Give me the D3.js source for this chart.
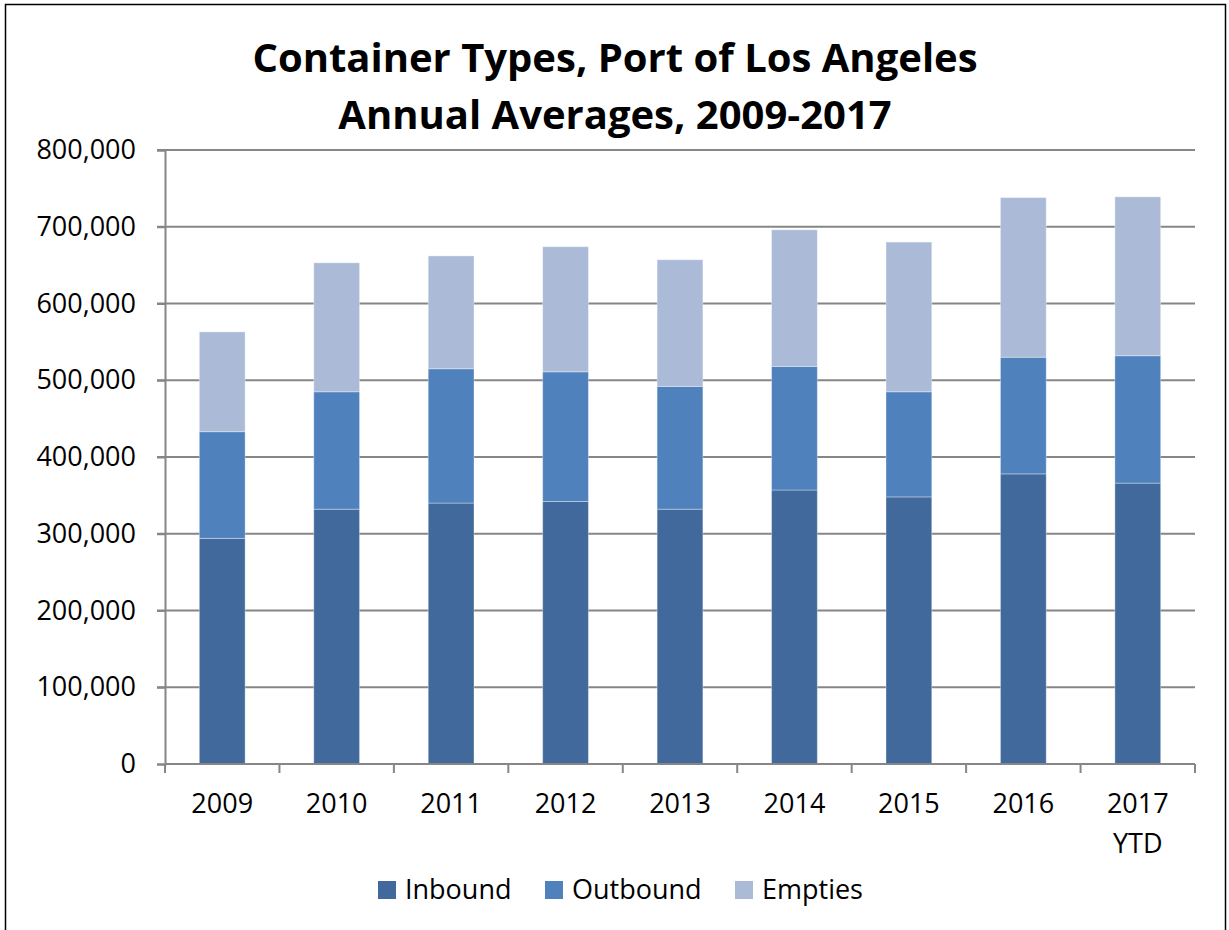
<!DOCTYPE html>
<html>
<head>
<meta charset="utf-8">
<script src="https://cdn.jsdelivr.net/npm/d3@7"></script>
<style>
  body { margin: 0; background: #fff; }
  svg { display: block; font-family: "Open Sans", "Noto Sans", sans-serif; }
</style>
</head>
<body>
<div id="chart"></div>
<script>
// values, stacked bottom to top
const years = ["2009", "2010", "2011", "2012", "2013", "2014", "2015", "2016", "2017\nYTD"]
const inbound = [294000, 332000, 340000, 342000, 332000, 357000, 348000, 378000, 366000]
const outbound = [139000, 153000, 175000, 169000, 160000, 161000, 137000, 152000, 166000]
const empties = [130000, 168000, 147000, 163000, 165000, 178000, 195000, 208000, 207000]
const seriesNames = ["Inbound", "Outbound", "Empties"]
const colors = ["#41699b", "#4f81bd", "#aabad7"]
const yTicks = [0, 100000, 200000, 300000, 400000, 500000, 600000, 700000, 800000]

const WIDTH = 1229
const HEIGHT = 930
const margin = { top: 150, right: 34, bottom: 166, left: 165 }

const rows = years.map((y, i) => ({
    year: y,
    Inbound: inbound[i],
    Outbound: outbound[i],
    Empties: empties[i]
}))

const stacked = d3.stack().keys(seriesNames)(rows)

const svg = d3.select("#chart").append("svg")
    .attr("width", WIDTH)
    .attr("height", HEIGHT)

svg.append("rect")
    .attr("x", 5.5).attr("y", 4.5)
    .attr("width", 1220).attr("height", 940)
    .attr("fill", "none").attr("stroke", "#000").attr("stroke-width", 1.5)

const x = d3.scaleBand()
    .domain(years)
    .range([margin.left, WIDTH - margin.right])
    .paddingInner(0.6)
    .paddingOuter(0.3)

const xEdges = d3.scaleLinear()
    .domain([0, years.length])
    .range([margin.left, WIDTH - margin.right])

const y = d3.scaleLinear()
    .domain([0, 800000])
    .range([HEIGHT - margin.bottom, margin.top])

// gridlines
svg.append("g")
    .selectAll("line")
    .data(yTicks.slice(1))
    .join("line")
    .attr("x1", margin.left - 8)
    .attr("x2", WIDTH - margin.right)
    .attr("y1", d => y(d))
    .attr("y2", d => y(d))
    .attr("stroke", "#868686")
    .attr("stroke-width", 2)

// bars
svg.append("g")
    .selectAll("g")
    .data(stacked)
    .join("g")
    .attr("fill", (d, i) => colors[i])
    .selectAll("rect")
    .data(d => d)
    .join("rect")
    .attr("x", d => x(d.data.year))
    .attr("y", d => y(d[1]))
    .attr("width", x.bandwidth())
    .attr("height", d => y(d[0]) - y(d[1]))
    .attr("stroke", "rgba(255,255,255,0.35)")
    .attr("stroke-width", 1)

// y axis
const yAxis = svg.append("g")
    .attr("transform", `translate(${margin.left},0)`)
    .call(d3.axisLeft(y).tickValues(yTicks).tickSize(8).tickPadding(21)
        .tickFormat(d3.format(",")))
yAxis.select(".domain").attr("stroke", "#868686").attr("stroke-width", 2)
yAxis.selectAll(".tick line").attr("stroke", "#868686").attr("stroke-width", 2)
yAxis.selectAll(".tick text")
    .attr("font-size", 27)
    .attr("font-family", "Open Sans, sans-serif")
    .attr("fill", "#000")

// x axis
const xAxisY = HEIGHT - margin.bottom
svg.append("line")
    .attr("x1", margin.left).attr("x2", WIDTH - margin.right)
    .attr("y1", xAxisY).attr("y2", xAxisY)
    .attr("stroke", "#868686").attr("stroke-width", 2)

svg.append("g")
    .selectAll("line")
    .data(d3.range(years.length + 1))
    .join("line")
    .attr("x1", d => xEdges(d)).attr("x2", d => xEdges(d))
    .attr("y1", xAxisY).attr("y2", xAxisY + 9)
    .attr("stroke", "#868686").attr("stroke-width", 2)

svg.append("g")
    .selectAll("text")
    .data(years)
    .join("text")
    .attr("text-anchor", "middle")
    .attr("font-size", 27)
    .attr("fill", "#000")
    .attr("transform", d => `translate(${x(d) + x.bandwidth() / 2},${xAxisY + 49})`)
    .each(function (d) {
        const lines = d.split("\n")
        d3.select(this).selectAll("tspan")
            .data(lines)
            .join("tspan")
            .attr("x", 0)
            .attr("dy", (l, i) => i === 0 ? 0 : 40)
            .text(l => l)
    })

// title
svg.append("text")
    .attr("text-anchor", "middle")
    .attr("font-size", 40)
    .attr("font-weight", "bold")
    .attr("fill", "#000")
    .selectAll("tspan")
    .data(["Container Types, Port of Los Angeles", "Annual Averages, 2009-2017"])
    .join("tspan")
    .attr("x", 615)
    .attr("y", (d, i) => 72 + i * 57)
    .text(d => d)

// legend
const legendX = [378, 545, 735]
const legend = svg.append("g")
    .selectAll("g")
    .data(seriesNames)
    .join("g")
    .attr("transform", (d, i) => `translate(${legendX[i]},881)`)

legend.append("rect")
    .attr("width", 18).attr("height", 18)
    .attr("fill", (d, i) => colors[i])

legend.append("text")
    .attr("x", 27).attr("y", 18)
    .attr("font-size", 27)
    .attr("fill", "#000")
    .text(d => d)
</script>
</body>
</html>
